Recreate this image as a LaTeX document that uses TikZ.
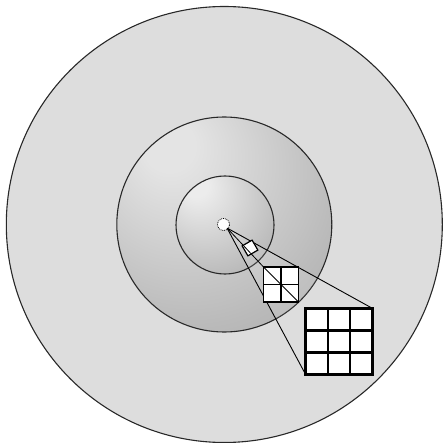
\documentclass[tikz,border=0pt]{standalone}
\usetikzlibrary{calc}
\definecolor{outerfill}{RGB}{221,221,221}
\definecolor{midlight}{RGB}{228,228,228}
\definecolor{midmid}{RGB}{186,186,186}
\definecolor{middark}{RGB}{140,140,140}
\definecolor{inlight}{RGB}{236,236,236}
\definecolor{inmid}{RGB}{188,188,188}
\definecolor{indark}{RGB}{125,125,125}
\definecolor{rimline}{RGB}{40,40,40}
\pgfdeclareradialshading{midball}{\pgfpoint{-14bp}{20bp}}{color(0bp)=(midlight); color(6bp)=(midlight); color(34bp)=(midmid); color(72bp)=(middark)}
\pgfdeclareradialshading{inball}{\pgfpoint{-16bp}{22bp}}{color(0bp)=(inlight); color(6bp)=(inlight); color(36bp)=(inmid); color(74bp)=(indark)}
\tikzset{
  rim/.style={draw=rimline, line width=1.1pt},
  cone/.style={draw=black, line width=0.9pt},
  cellbox/.style={draw=black, fill=white, inner sep=0pt, outer sep=0pt},
}
\begin{document}
\begin{tikzpicture}[x=1pt,y=-1pt]
\useasboundingbox (0,0) rectangle (442,443);
% circles
\coordinate (O) at (224.3,224.5);
\fill[outerfill] (O) circle (218);
\draw[rim] (O) circle (218);
\shade[shading=midball] (O) circle (107.5);
\draw[rim] (O) circle (107.5);
\shade[shading=inball] (225,225) circle (49);
\draw[rim] (225,225) circle (49);
% magnified elements
\node[cellbox, minimum size=35pt, line width=1.8pt] (g2) at (281,284.5) {};
\node[cellbox, minimum size=66.5pt, line width=2.8pt] (g3) at (339,341.5) {};
\coordinate (P) at (227,228);
% cone shading inside middle sphere
\begin{scope}
  \clip (O) circle (107.5);
  \fill[white, opacity=0.12] (P) -- (g3.north east) -- (g3.south west) -- cycle;
\end{scope}
% cone lines
\draw[cone] (P) -- (g3.north east);
\draw[cone] (P) -- (g3.south west);
% centre point
\node[circle, fill=white, draw=black, densely dotted, line width=0.8pt, minimum size=12pt, inner sep=0pt] (c0) at (223.5,224.5) {};
% small rotated cell
\node[cellbox, minimum size=11.5pt, line width=1.2pt, rotate=30] (d1) at (250,248) {};
% grids redrawn on top
\node[cellbox, minimum size=35pt, line width=1.8pt] (g2b) at (g2) {};
\draw[line width=1.8pt] (g2b.north) -- (g2b.south);
\draw[line width=1.8pt] (g2b.west) -- (g2b.east);
\node[cellbox, minimum size=66.5pt, line width=2.8pt] (g3b) at (g3) {};
\foreach \f in {0.3333,0.6667}{
  \draw[line width=2.6pt] ($(g3b.north west)!\f!(g3b.north east)$) -- ($(g3b.south west)!\f!(g3b.south east)$);
  \draw[line width=2.6pt] ($(g3b.north west)!\f!(g3b.south west)$) -- ($(g3b.north east)!\f!(g3b.south east)$);
}
% middle ray and diagonal
\draw[line width=0.8pt] (P) -- (g2b.north west) -- (g2b.south east);
\end{tikzpicture}
\end{document}
